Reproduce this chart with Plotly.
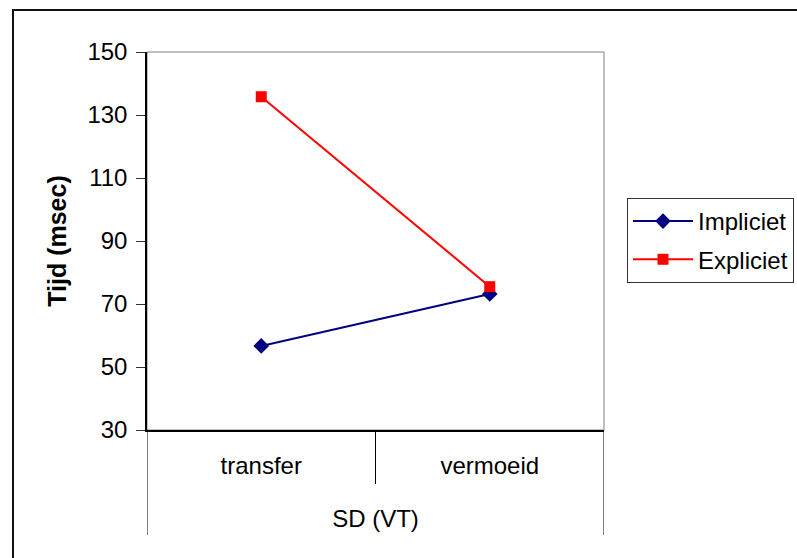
import plotly.graph_objects as go

# Reaction time per condition
categories = ["transfer", "vermoeid"]
impliciet = [56.7, 73.2]
expliciet = [135.8, 75.5]
y_ticks = [30, 50, 70, 90, 110, 130, 150]

W, H = 797, 558
L, R, T, B = 147, 604, 52, 430  # plot area in pixels
PW, PH = R - L, B - T


def px_x(x):
    return (x - L) / PW


def px_y(y):
    return (B - y) / PH


FONT = "Liberation Sans, Arial, sans-serif"

fig = go.Figure()
fig.add_trace(go.Scatter(
    x=categories, y=impliciet, name="Impliciet", mode="lines+markers",
    legendgroup="a",
    line=dict(color="#000080", width=2),
    marker=dict(symbol="diamond", size=12, color="#000080"),
))
fig.add_trace(go.Scatter(
    x=categories, y=expliciet, name="Expliciet", mode="lines+markers",
    legendgroup="b",
    line=dict(color="#FF0000", width=2),
    marker=dict(symbol="square", size=11, color="#FF0000"),
))

shapes = [
    # outer chart frame
    dict(type="rect", xref="paper", yref="paper",
         x0=px_x(13), x1=px_x(830), y0=px_y(10), y1=px_y(600),
         line=dict(color="#111111", width=2), layer="below"),
    # plot area frame (top/right in gray)
    dict(type="rect", xref="paper", yref="paper", x0=0, x1=1, y0=0, y1=1,
         line=dict(color="#808080", width=1), layer="below"),
]
# category divider lines below the axis
n = len(categories)
for i in range(n + 1):
    outer = i in (0, n)
    shapes.append(dict(
        type="line", xref="x", yref="paper", x0=i - 0.5, x1=i - 0.5,
        y0=0, y1=px_y(535 if outer else 484),
        line=dict(color="black", width=1),
    ))

fig.update_layout(
    width=W, height=H,
    margin=dict(l=L, r=W - R, t=T, b=H - B, pad=0, autoexpand=False),
    paper_bgcolor="white", plot_bgcolor="white",
    font=dict(family=FONT, size=24, color="black"),
    showlegend=True,
    legend=dict(
        xref="container", yref="container",
        x=627 / W, y=1 - 198 / H, xanchor="left", yanchor="top",
        bordercolor="#333333", borderwidth=1, bgcolor="white",
        font=dict(family=FONT, size=24, color="black"),
        traceorder="grouped", tracegroupgap=4, itemwidth=60,
        entrywidth=180,
    ),
    shapes=shapes,
    xaxis=dict(
        type="category", range=[-0.5, n - 0.5],
        showline=True, linecolor="black", linewidth=1.5,
        showgrid=False, zeroline=False,
        ticks="outside", ticklen=13, tickcolor="rgba(0,0,0,0)",
        tickfont=dict(size=24),
        title=dict(text="SD (VT)", font=dict(size=24), standoff=33),
    ),
    yaxis=dict(
        range=[30, 150], tickvals=y_ticks,
        showline=True, linecolor="black", linewidth=1.5,
        showgrid=False, zeroline=False,
        ticks="outside", ticklen=9, tickcolor="#333333",
        ticklabelstandoff=4,
        tickfont=dict(size=24),
        title=dict(text="<b>Tijd (msec)</b>", font=dict(size=25), standoff=14),
    ),
)

fig.write_html("out.html")
